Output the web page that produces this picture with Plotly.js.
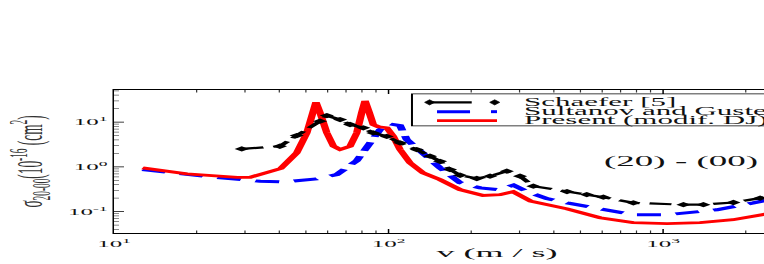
<!DOCTYPE html>
<html>
<head>
<meta charset="utf-8">
<script src="https://cdn.plot.ly/plotly-3.0.1.min.js"></script>
<style>
  html, body { margin:0; padding:0; overflow:hidden; width:764px; height:264px; background:#fff; }
  #wrap { width:900px; height:714px; transform: scale(1, 0.37); transform-origin: 0 0; }
</style>
</head>
<body>
<div id="wrap"><div id="chart"></div></div>
<script>
// ---- data ----
const schaeferV   = [29.2, 40.2, 46.3, 56.3, 59.6, 66.6, 72.4, 80.9, 88.0, 98.5, 110.1, 126.7, 141.6, 154, 167.5, 182.2, 209.6, 234.3, 269.6, 301.3, 336.9, 446.6, 527.2, 606, 779.5, 1186, 1402, 1803, 2256, 2901];
const schaeferSig = [2.52, 2.89, 5.0, 10.5, 14.0, 11.4, 8.85, 7.45, 5.75, 4.8, 3.44, 2.44, 1.73, 1.33, 0.87, 0.65, 0.55, 0.62, 0.80, 0.62, 0.37, 0.28, 0.24, 0.21, 0.157, 0.143, 0.143, 0.16, 0.20, 0.25];

const sultanovV   = [12.7, 23.0, 34.0, 41.4, 54.7, 64.7, 76.6, 85.6, 93.1, 101.3, 110.1, 116.5, 133.9, 154, 182.2, 215.4, 251.4, 284.9, 318.7, 377, 447, 589, 779.5, 1031, 1220, 1569, 2133, 2901];
const sultanovSig = [0.87, 0.585, 0.476, 0.46, 0.54, 0.67, 1.38, 3.44, 6.8, 9.1, 8.4, 4.08, 1.88, 0.95, 0.44, 0.34, 0.31, 0.39, 0.28, 0.196, 0.157, 0.115, 0.085, 0.085, 0.094, 0.11, 0.157, 0.23];

const presentV   = [12.7, 18.4, 28.1, 31.3, 40.5, 46.3, 50.4, 52.5, 54.4, 56.3, 59.6, 63.0, 66.6, 72.4, 76.6, 79.8, 82.1, 85.1, 88.0, 91.8, 98.5, 104.1, 110.1, 119.7, 133.8, 154, 182.2, 220.9, 254.7, 284, 330, 447, 589, 777, 1034, 1365, 1798, 2312, 2901];
const presentSig = [0.95, 0.70, 0.58, 0.585, 0.92, 2.06, 5.75, 16.2, 28, 16.2, 5.75, 2.9, 2.44, 2.9, 5.75, 16.2, 30, 16.2, 8.8, 7.9, 7.5, 4.8, 2.44, 1.23, 0.73, 0.52, 0.31, 0.23, 0.24, 0.28, 0.17, 0.115, 0.073, 0.057, 0.054, 0.057, 0.066, 0.086, 0.11];

const seriesNames = ['Schaefer [5]', 'Sultanov and Guster [6]', 'Present (modif. DJ)'];
const xTickVals = [10, 100, 1000];
const xTickText = ['10<sup>1</sup>', '10<sup>2</sup>', '10<sup>3</sup>'];
const yTickVals = [0.1, 1, 10];
const yTickText = ['10<sup>-1</sup>', '10<sup>0</sup>', '10<sup>1</sup>'];
const transitionLabel = '(20) - (00)';

// minor ticks 2..9 in each decade
function minorTicks(decades) {
  const out = [];
  decades.forEach(d => { for (let k = 2; k <= 9; k++) out.push(k * d); });
  return out;
}
const xMinor = minorTicks([10, 100, 1000]);
const yMinor = minorTicks([0.01, 0.1, 1, 10]);

const FONT = 'Liberation Serif, Times New Roman, serif';

const traces = [
  { x: sultanovV, y: sultanovSig, mode: 'lines', name: seriesNames[1],
    line: { color: '#0000ff', width: 8, dash: '24px,15px' } },
  { x: presentV, y: presentSig, mode: 'lines', name: seriesNames[2],
    line: { color: '#ff0000', width: 7.5 } },
  { x: schaeferV, y: schaeferSig, mode: 'lines+markers', name: seriesNames[0],
    line: { color: '#000000', width: 6, dash: '22px,10px' },
    marker: { symbol: 'diamond', size: 11, color: '#000000' } }
];

// legend geometry (paper coordinates)
const LX0 = 0.389, LX1 = 0.985, LY0 = 0.748, LY1 = 0.972;
const rowY = [0.913, 0.848, 0.786];
const textX = 0.5326;
function diamond(cx, cy) {
  const hw = 0.0065, hh = 0.018;
  return `M ${cx - hw} ${cy} L ${cx} ${cy + hh} L ${cx + hw} ${cy} L ${cx} ${cy - hh} Z`;
}
const shapes = [
  { type: 'rect', xref: 'paper', yref: 'paper', x0: LX0, x1: LX1, y0: LY0, y1: LY1,
    line: { color: '#000', width: 2 }, fillcolor: '#fff', layer: 'above' },
  { type: 'line', xref: 'paper', yref: 'paper', x0: 0.412, x1: 0.467, y0: rowY[0], y1: rowY[0],
    line: { color: '#000', width: 6 } },
  { type: 'path', xref: 'paper', yref: 'paper', path: diamond(0.412, rowY[0]), fillcolor: '#000', line: { color: '#000', width: 1 } },
  { type: 'path', xref: 'paper', yref: 'paper', path: diamond(0.497, rowY[0]), fillcolor: '#000', line: { color: '#000', width: 1 } },
  { type: 'line', xref: 'paper', yref: 'paper', x0: 0.4217, x1: 0.4648, y0: rowY[1], y1: rowY[1],
    line: { color: '#0000ff', width: 8 } },
  { type: 'line', xref: 'paper', yref: 'paper', x0: 0.4922, x1: 0.5, y0: rowY[1], y1: rowY[1],
    line: { color: '#0000ff', width: 8 } },
  { type: 'line', xref: 'paper', yref: 'paper', x0: 0.4217, x1: 0.5, y0: rowY[2], y1: rowY[2],
    line: { color: '#ff0000', width: 7.5 } }
];

const annotations = seriesNames.map((t, i) => ({
  xref: 'paper', yref: 'paper', x: textX, y: rowY[i], xanchor: 'left', yanchor: 'middle',
  text: t, showarrow: false, font: { family: FONT, size: 31, color: '#111' }
}));
annotations.push({
  xref: 'paper', yref: 'paper', x: 0.637, y: 0.497, xanchor: 'left', yanchor: 'middle',
  text: transitionLabel, showarrow: false, font: { family: FONT, size: 37, color: '#111' }
});

const layout = {
  width: 900, height: 714,
  margin: { l: 114, r: 20, t: 243, b: 84 },
  paper_bgcolor: '#fff', plot_bgcolor: '#fff',
  showlegend: false,
  font: { family: FONT, color: '#111' },
  xaxis: {
    type: 'log', range: [1, 3.79],
    tickmode: 'array', tickvals: xTickVals, ticktext: xTickText,
    ticks: 'inside', ticklen: 11, tickwidth: 1.5, tickcolor: '#000',
    showline: true, linecolor: '#000', linewidth: 2.5, mirror: 'ticks',
    showgrid: false, zeroline: false,
    tickfont: { family: FONT, size: 25, color: '#111' },
    ticklabelstandoff: 4,
    minor: { tickmode: 'array', tickvals: xMinor, ticks: 'inside', ticklen: 7, tickwidth: 1.2, tickcolor: '#333', showgrid: false },
    title: { text: 'v (m / s)', font: { family: FONT, size: 36, color: '#111' }, standoff: 0 },
    automargin: false
  },
  yaxis: {
    type: 'log', range: [-1.48, 1.72],
    tickmode: 'array', tickvals: yTickVals, ticktext: yTickText,
    ticks: 'inside', ticklen: 10, tickwidth: 2.5, tickcolor: '#000',
    showline: true, linecolor: '#000', linewidth: 1.5, mirror: 'ticks',
    showgrid: false, zeroline: false,
    tickfont: { family: FONT, size: 25, color: '#111' },
    minor: { tickmode: 'array', tickvals: yMinor, ticks: 'inside', ticklen: 5, tickwidth: 2, tickcolor: '#666', showgrid: false },
    title: { text: 'σ<sub>20-00</sub>(10<sup>-16</sup> (cm<sup>2</sup>)', font: { family: FONT, size: 36, color: '#333' }, standoff: 14 },
    automargin: false
  },
  shapes: shapes,
  annotations: annotations
};

Plotly.newPlot('chart', traces, layout, { displayModeBar: false, staticPlot: true });
</script>
</body>
</html>
